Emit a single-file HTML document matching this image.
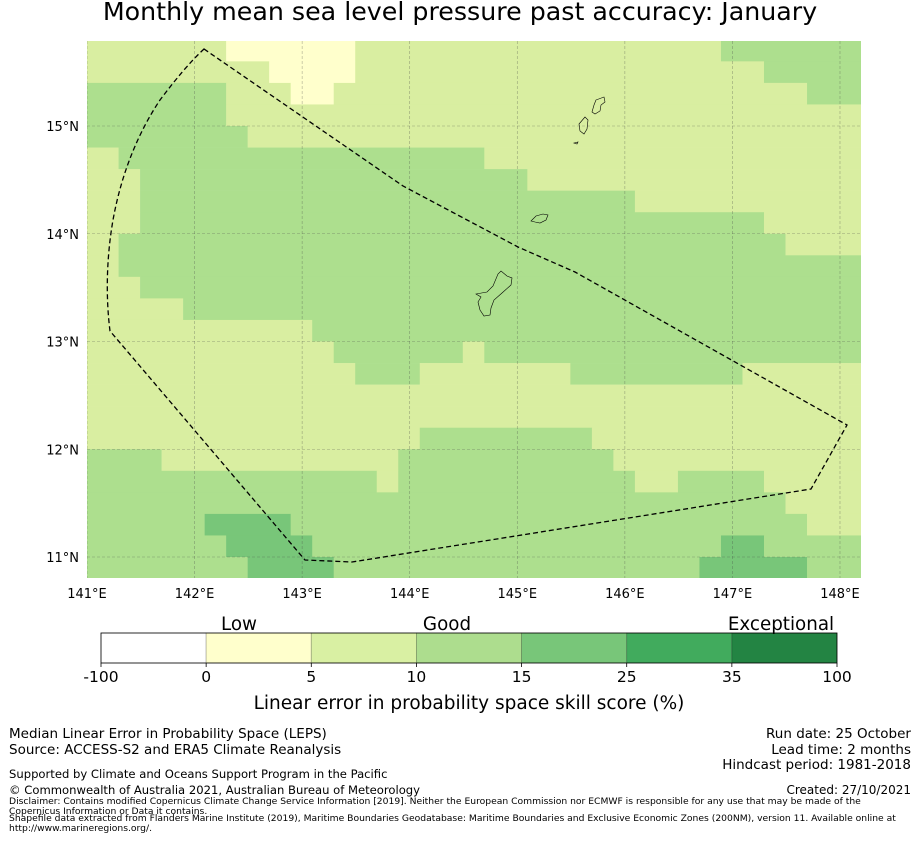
<!DOCTYPE html>
<html><head><meta charset="utf-8">
<style>
html,body{margin:0;padding:0;background:#fff;}
body{width:919px;height:839px;overflow:hidden;font-family:"DejaVu Sans","Liberation Sans",sans-serif;}
svg text{font-family:"DejaVu Sans","Liberation Sans",sans-serif;}
</style></head>
<body>
<svg id="chart" width="919" height="839" viewBox="0 0 919 839" xmlns="http://www.w3.org/2000/svg">
<defs><clipPath id="mapclip"><rect x="87" y="41" width="774" height="537"/></clipPath></defs>
<text x="460" y="20" font-size="25.3" text-anchor="middle">Monthly mean sea level pressure past accuracy: January</text>
<g id="cells" clip-path="url(#mapclip)"></g>
<g id="grid" clip-path="url(#mapclip)"></g>
<g id="land" clip-path="url(#mapclip)" fill="none" stroke="#000" stroke-width="0.6">
<path d="M596,100 L604,97 L605,102 L601,105 L600,111 L595,114 L592,112 L594,105 Z"/>
<path d="M585,117 L588,120 L587,129 L584,134 L580,131 L579,124 Z"/>
<path d="M574,143 L578,142 L577,144 Z"/>
<path d="M531,221 L536,216 L543,214 L548,215 L546,220 L540,223 L535,222 Z"/>
<path d="M476,294 L487,292 L493,286 L498,274 L501,271 L507,276 L512,278 L511,285 L502,293 L494,300 L491,308 L490,315 L484,316 L480,310 L478,302 L481,297 Z"/>
</g>
<path id="eez" fill="none" stroke="#000" stroke-width="1.3" stroke-dasharray="5,3"
 d="M204,49 L403,186 L518,247 L575,272 L847,425 L811,489 L352,562 L305,560 L110,331 C106,300 106,260 113,220 C122,170 140,130 160,100 C175,80 190,62 204,49 Z"/>
<g id="ticks" font-size="13"></g>
<g id="cbar"></g>
<text x="239" y="630" font-size="18.3" text-anchor="middle">Low</text>
<text x="447" y="630" font-size="18.3" text-anchor="middle">Good</text>
<text x="781" y="630" font-size="18.3" text-anchor="middle">Exceptional</text>
<text x="469" y="709" font-size="18.5" text-anchor="middle">Linear error in probability space skill score (%)</text>
<g font-size="13.5">
<text x="9" y="738">Median Linear Error in Probability Space (LEPS)</text>
<text x="9" y="754">Source: ACCESS-S2 and ERA5 Climate Reanalysis</text>
<text x="9" y="778" font-size="11.6">Supported by Climate and Oceans Support Program in the Pacific</text>
<text x="9" y="794" font-size="11.6">© Commonwealth of Australia 2021, Australian Bureau of Meteorology</text>
<text x="911" y="738" text-anchor="end">Run date: 25 October</text>
<text x="911" y="754" text-anchor="end">Lead time: 2 months</text>
<text x="911" y="769" text-anchor="end">Hindcast period: 1981-2018</text>
<text x="911" y="794" text-anchor="end" font-size="12">Created: 27/10/2021</text>
</g>
<g font-size="9.2">
<text x="9" y="804">Disclaimer: Contains modified Copernicus Climate Change Service Information [2019]. Neither the European Commission nor ECMWF is responsible for any use that may be made of the</text>
<text x="9" y="814">Copernicus Information or Data it contains.</text>
<text x="9" y="821">Shapefile data extracted from Flanders Marine Institute (2019), Maritime Boundaries Geodatabase: Maritime Boundaries and Exclusive Economic Zones (200NM), version 11. Available online at</text>
<text x="9" y="831">http://www.marineregions.org/.</text>
</g>
</svg>
<script>
const NS = "http://www.w3.org/2000/svg";
// category colours
const catKeys = ["Y","L","G","D"];
const catColors = ["#ffffcc","#d9eea1","#addf8e","#78c679"];
// each row: [category, startColumn] segments; rows from north (15.7N) to south
const rowSegments = [
 [["L",0],["Y",7],["L",13],["G",30]],
 [["L",0],["Y",9],["L",13],["G",32]],
 [["G",0],["L",7],["Y",10],["L",12],["G",34]],
 [["G",0],["L",7]],
 [["G",0],["L",8]],
 [["L",0],["G",2],["L",19]],
 [["L",0],["G",3],["L",21]],
 [["L",0],["G",3],["L",26]],
 [["L",0],["G",3],["L",32]],
 [["L",0],["G",2],["L",33]],
 [["L",0],["G",2]],
 [["L",0],["G",3]],
 [["L",0],["G",5]],
 [["L",0],["G",11]],
 [["L",0],["G",12],["L",18],["G",19]],
 [["L",0],["G",13],["L",16],["G",23],["L",31]],
 [["L",0]],
 [["L",0]],
 [["L",0],["G",16],["L",24]],
 [["G",0],["L",4],["G",15],["L",25]],
 [["G",0],["L",14],["G",15],["L",26],["G",28],["L",32]],
 [["G",0],["L",33]],
 [["G",0],["D",6],["G",10],["L",34]],
 [["G",0],["D",7],["G",11],["D",30],["G",32]],
 [["G",0],["D",8],["G",12],["D",29],["G",34]]
];
const nCols = 37;
const lonStart = 141.0, latStart = 15.7, cellDeg = 0.2;
const lonTicks = [141,142,143,144,145,146,147,148];
const latTicks = [11,12,13,14,15];
const cbBounds = ["-100","0","5","10","15","25","35","100"];
const cbColors = ["#ffffff","#ffffcc","#d9f0a3","#addd8e","#78c679","#41ab5d","#238443"];

function xLon(lon){ return 87 + (lon-141)*107.57; }
function yLat(lat){ return 126 + (15-lat)*107.75; }

const cells = document.getElementById("cells");
rowSegments.forEach((segs, r) => {
  const latC = latStart - r*cellDeg;
  const y0 = yLat(latC + cellDeg/2), y1 = yLat(latC - cellDeg/2);
  segs.forEach((s, si) => {
    const end = si+1 < segs.length ? segs[si+1][1] : nCols;
    const lonA = lonStart + s[1]*cellDeg - cellDeg/2;
    const lonB = lonStart + end*cellDeg - cellDeg/2;
    const rc = document.createElementNS(NS,"rect");
    rc.setAttribute("x", xLon(lonA)-0.7); rc.setAttribute("y", y0);
    rc.setAttribute("width", xLon(lonB)-xLon(lonA)+0.3); rc.setAttribute("height", y1-y0+0.3);
    rc.setAttribute("fill", catColors[catKeys.indexOf(s[0])]);
    
    
    cells.appendChild(rc);
  });
});

const grid = document.getElementById("grid");
const ticks = document.getElementById("ticks");
lonTicks.forEach(l => {
  const x = xLon(l);
  const ln = document.createElementNS(NS,"line");
  ln.setAttribute("x1",x); ln.setAttribute("x2",x); ln.setAttribute("y1",41); ln.setAttribute("y2",578);
  ln.setAttribute("stroke","#444"); ln.setAttribute("stroke-opacity","0.45"); ln.setAttribute("stroke-width","0.6"); ln.setAttribute("stroke-dasharray","3,2");
  
  
  grid.appendChild(ln);
  const t = document.createElementNS(NS,"text");
  t.setAttribute("x",x); t.setAttribute("y",598); t.setAttribute("text-anchor","middle");
  t.textContent = l + "°E";
  
  
  ticks.appendChild(t);
});
latTicks.forEach(l => {
  const y = yLat(l);
  const ln = document.createElementNS(NS,"line");
  ln.setAttribute("x1",87); ln.setAttribute("x2",861); ln.setAttribute("y1",y); ln.setAttribute("y2",y);
  ln.setAttribute("stroke","#444"); ln.setAttribute("stroke-opacity","0.45"); ln.setAttribute("stroke-width","0.6"); ln.setAttribute("stroke-dasharray","3,2");
  
  
  grid.appendChild(ln);
  const t = document.createElementNS(NS,"text");
  t.setAttribute("x",79); t.setAttribute("y",y+5); t.setAttribute("text-anchor","end");
  t.textContent = l + "°N";
  
  
  ticks.appendChild(t);
});

const cbar = document.getElementById("cbar");
const cbX0 = 101, cbW = 736, cbY = 633, cbH = 30, segW = cbW/cbColors.length;
cbColors.forEach((c,i) => {
  const r = document.createElementNS(NS,"rect");
  r.setAttribute("x", cbX0+i*segW); r.setAttribute("y", cbY); r.setAttribute("width", segW); r.setAttribute("height", cbH);
  r.setAttribute("fill", c); r.setAttribute("stroke", "rgba(0,0,0,0.25)"); r.setAttribute("stroke-width","0.8");
  
  
  cbar.appendChild(r);
});
const fr = document.createElementNS(NS,"rect");
fr.setAttribute("x",cbX0); fr.setAttribute("y",cbY); fr.setAttribute("width",cbW); fr.setAttribute("height",cbH);
fr.setAttribute("fill","none"); fr.setAttribute("stroke","#000"); fr.setAttribute("stroke-width","0.8");


cbar.appendChild(fr);
cbBounds.forEach((b,i) => {
  const x = cbX0 + i*segW;
  const tk = document.createElementNS(NS,"line");
  tk.setAttribute("x1",x); tk.setAttribute("x2",x); tk.setAttribute("y1",cbY+cbH); tk.setAttribute("y2",cbY+cbH+4);
  tk.setAttribute("stroke","#000"); tk.setAttribute("stroke-width","0.8");
  
  
  cbar.appendChild(tk);
  const t = document.createElementNS(NS,"text");
  t.setAttribute("x",x); t.setAttribute("y",682); t.setAttribute("text-anchor","middle"); t.setAttribute("font-size","15.5");
  t.textContent = b;
  
  
  cbar.appendChild(t);
});
</script>
</body></html>
